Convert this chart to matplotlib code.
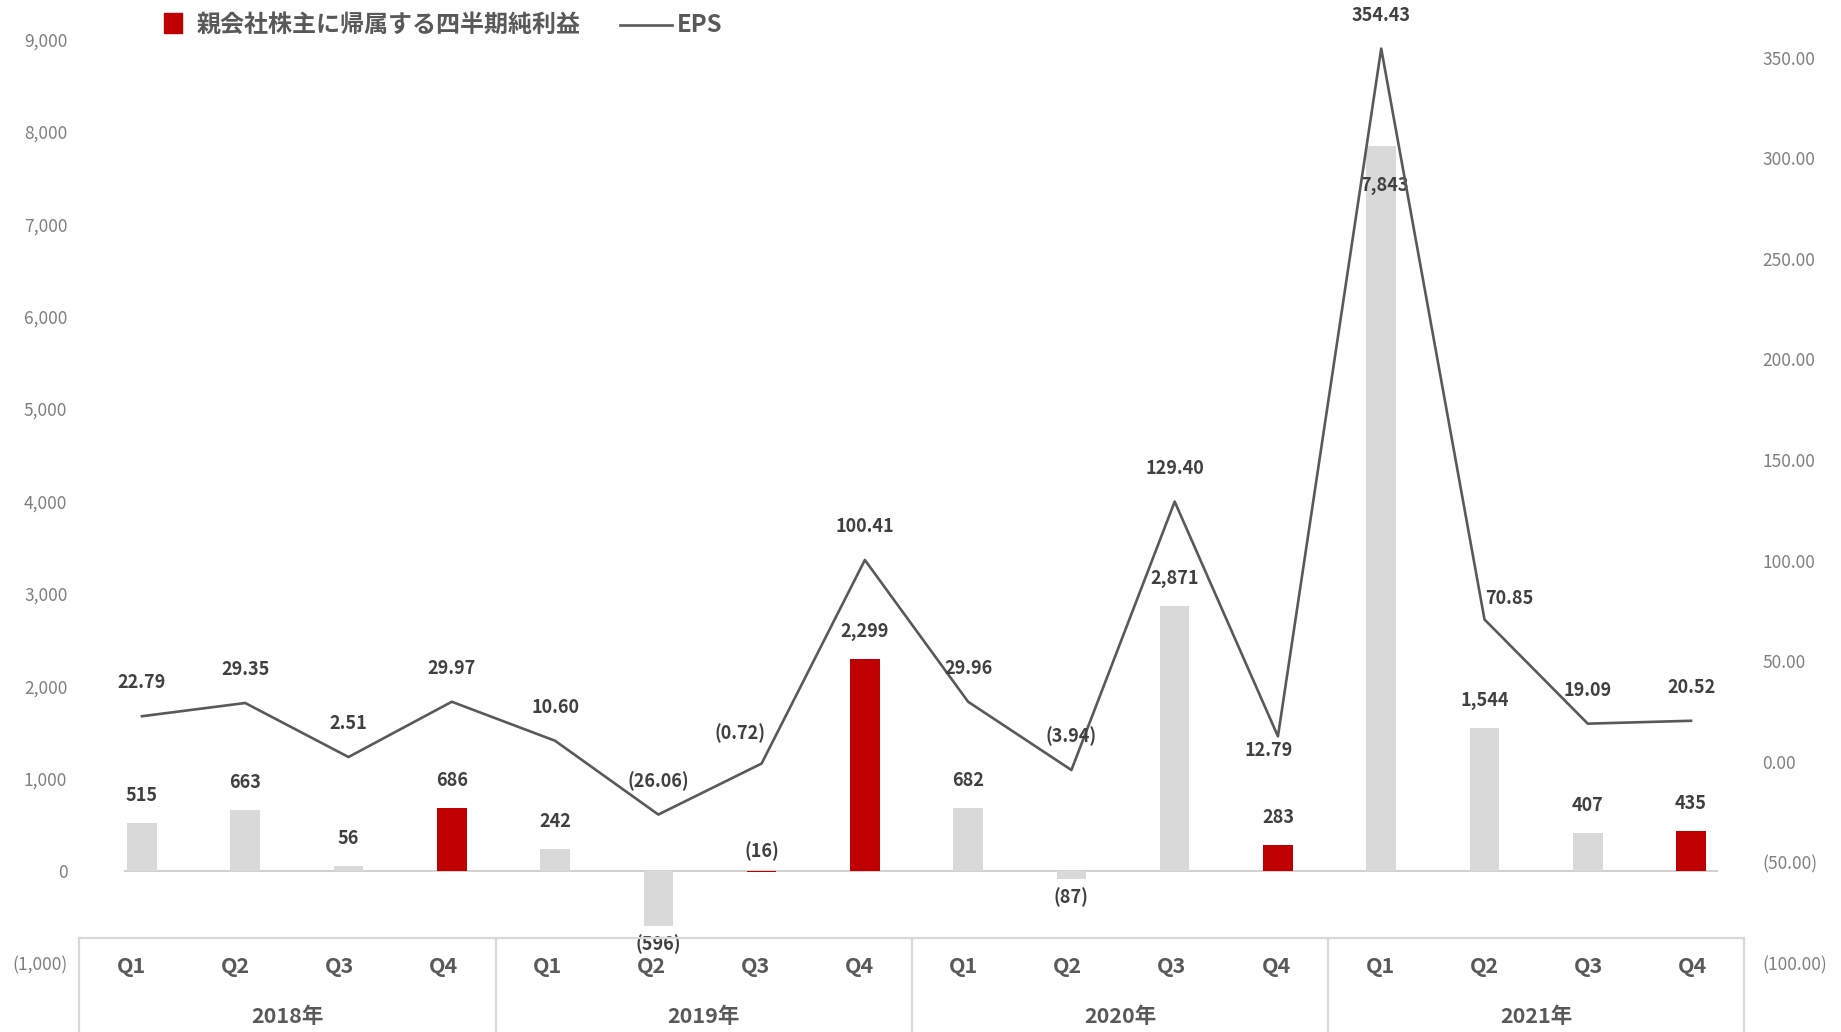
import numpy as np
import matplotlib.pyplot as plt
from matplotlib.patches import Rectangle
from matplotlib.lines import Line2D
from matplotlib.ticker import FuncFormatter

plt.rcParams['font.family'] = ['Noto Sans CJK JP', 'DejaVu Sans']

# 四半期データ
years = ['2018年', '2019年', '2020年', '2021年']
quarters = ['Q1', 'Q2', 'Q3', 'Q4']
net_income = [515, 663, 56, 686, 242, -596, -16, 2299,
              682, -87, 2871, 283, 7843, 1544, 407, 435]
highlight = [False, False, False, True, False, False, True, True,
             False, False, False, True, False, False, False, True]
eps = [22.79, 29.35, 2.51, 29.97, 10.60, -26.06, -0.72, 100.41,
       29.96, -3.94, 129.40, 12.79, 354.43, 70.85, 19.09, 20.52]

GRAY_BAR = '#d9d9d9'
RED = '#c00000'
DARK = '#404040'
MID = '#595959'
TICK = '#7f7f7f'
GRID = '#d9d9d9'

W, H = 1841, 1032
fig = plt.figure(figsize=(W / 100, H / 100), dpi=100)


def px_box(x0, y0, x1, y1):
    # pixel rect (top-left origin) -> figure fraction
    return [x0 / W, 1 - y1 / H, (x1 - x0) / W, (y1 - y0) / H]


def num_fmt(v, digits=0):
    s = f'{abs(v):,.{digits}f}'
    return f'({s})' if v < 0 else s


ax = fig.add_axes(px_box(124.3, 39.4, 1718.3, 963.4))
x = np.arange(len(net_income))
colors = [RED if h else GRAY_BAR for h in highlight]
ax.bar(x, net_income, width=0.286, color=colors, zorder=2)
ax.axhline(0, color='#c8c8c8', lw=1.2, zorder=1)
ax.set_xlim(-0.171, 15.264)
ax.set_ylim(-1000, 9000)
ax.set_yticks(np.arange(-1000, 9001, 1000))
ax.yaxis.set_major_formatter(FuncFormatter(lambda v, p: num_fmt(v)))
ax.set_xticks([])
ax.tick_params(axis='y', length=0, pad=41, labelsize=12.5, labelcolor=TICK)
for s in ax.spines.values():
    s.set_visible(False)

# bar labels: (dx, dy) in points, relative to the bar end
bar_nudge = {6: (0, 15.5), 12: (2, -28)}
for i, v in enumerate(net_income):
    dx, dy = bar_nudge.get(i, (0, 19.8 if v >= 0 else -12.8))
    ax.annotate(num_fmt(v), (i, v), xytext=(dx, dy), textcoords='offset points',
                ha='center', va='center', fontsize=13, fontweight='bold',
                color=DARK, zorder=5)

ax2 = ax.twinx()
ax2.plot(x, eps, color=MID, lw=1.9, zorder=3)
ax2.set_ylim(-100, 359)
ax2.set_yticks(np.arange(-100, 351, 50))
ax2.yaxis.set_major_formatter(FuncFormatter(lambda v, p: num_fmt(v, 2)))
ax2.tick_params(axis='y', length=0, pad=31.5, labelsize=12.5, labelcolor=TICK)
for s in ax2.spines.values():
    s.set_visible(False)

eps_nudge = {6: (-15.6, 21.6), 11: (-6.5, -10), 13: (18, 15)}
for i, v in enumerate(eps):
    dx, dy = eps_nudge.get(i, (0, 24))
    ax2.annotate(num_fmt(v, 2), (i, v), xytext=(dx, dy), textcoords='offset points',
                 ha='center', va='center', fontsize=13, fontweight='bold',
                 color=DARK, zorder=5)

# two-level category axis below the plot
bx = fig.add_axes(px_box(79.3, 938.3, 1744.3, 1032))
bx.set_xlim(0, 16)
bx.set_ylim(0, 1)
bx.axis('off')
bx.plot([0, 16], [1, 1], color=GRID, lw=1.6, clip_on=False)
for k in range(len(years) + 1):
    bx.plot([4 * k, 4 * k], [0, 1], color=GRID, lw=1.6, clip_on=False)
for k, yr in enumerate(years):
    for j, q in enumerate(quarters):
        bx.text(4 * k + j + 0.5, 0.697, q, ha='center', va='center',
                fontsize=15.5, fontweight='bold', color=MID)
    bx.text(4 * k + 2, 0.163, yr, ha='center', va='center',
            fontsize=15.5, fontweight='bold', color=MID)

# legend
ly = 1 - 25 / H
fig.patches.append(Rectangle((164 / W, 1 - 32.5 / H), 17.7 / W, 19.4 / H,
                             transform=fig.transFigure, color=RED))
fig.text(196.7 / W, ly, '親会社株主に帰属する四半期純利益', ha='left', va='center',
         fontsize=17.3, fontweight='bold', color=MID)
fig.lines.append(Line2D([620 / W, 672 / W], [ly, ly],
                        transform=fig.transFigure, color=MID, lw=1.9))
fig.text(677 / W, ly, 'EPS', ha='left', va='center',
         fontsize=17.3, fontweight='bold', color=MID)

fig.savefig('out.png', dpi=100)
